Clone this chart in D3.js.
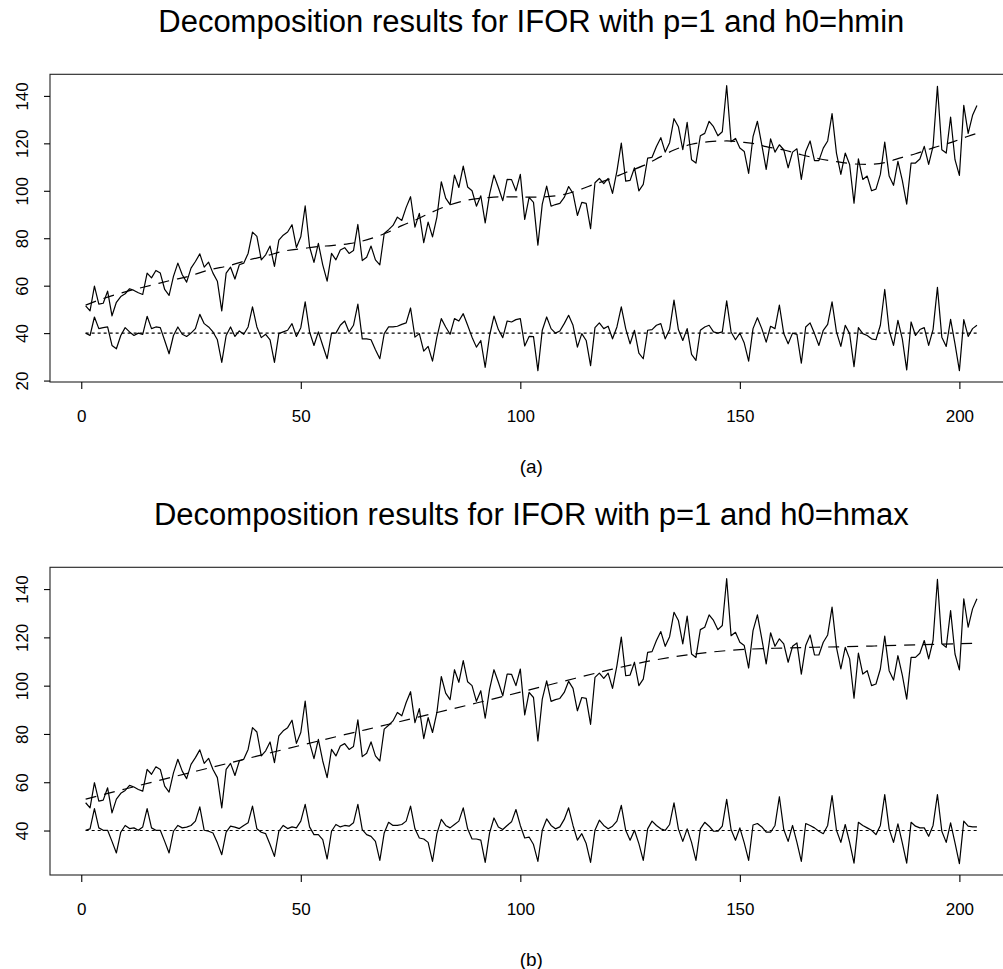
<!DOCTYPE html>
<html>
<head>
<meta charset="utf-8">
<script src="https://cdn.jsdelivr.net/npm/d3@7"></script>
<style>
  body { margin: 0; background: #fff; }
  svg { display: block; }
</style>
</head>
<body>
<div id="chart"></div>
<script>
// Observed monthly series (t = 1..204), shared by both decompositions
const observed = [
  51.5,49.4,59.8,52.2,52.6,57.7,47.3,53.0,55.4,56.6,
  58.7,58.0,57.0,56.3,65.3,63.3,66.4,65.3,58.4,55.9,
  63.9,69.5,64.6,61.5,67.4,70.2,73.4,67.8,69.9,65.3,
  61.9,49.4,65.3,67.8,62.8,68.8,69.5,73.6,82.6,80.8,
  70.9,73.0,76.7,68.1,79.2,81.3,82.6,85.7,76.1,80.6,
  93.6,76.4,69.8,77.8,68.8,61.9,73.6,70.9,75.0,76.0,
  73.6,74.8,85.8,70.6,72.0,76.7,70.9,68.8,82.0,83.6,
  85.4,88.9,87.5,93.0,97.5,84.7,90.5,78.1,86.8,80.6,
  88.9,103.8,96.9,94.2,106.6,101.4,110.4,101.6,100.0,93.5,
  97.9,86.5,98.6,106.6,101.4,95.8,104.8,104.7,100.0,106.9,
  87.9,97.2,95.1,77.1,94.4,102.0,93.5,94.2,94.7,97.2,
  101.8,98.9,89.6,95.1,94.7,84.0,103.4,105.2,103.0,105.2,
  98.9,108.3,120.1,104.1,104.4,109.7,100.0,102.7,113.8,114.1,
  118.7,122.4,116.3,120.3,130.4,127.0,117.3,128.8,113.1,111.7,
  123.2,124.2,129.3,127.0,123.2,124.9,144.3,120.7,122.1,118.0,
  116.6,107.3,122.8,129.3,119.4,109.0,121.9,116.3,119.4,117.3,
  109.7,116.3,117.7,104.8,116.6,121.0,112.7,112.7,118.0,121.0,
  132.5,115.9,106.9,115.9,111.1,94.8,113.5,104.8,106.2,100.0,
  100.7,106.9,120.5,106.2,102.3,112.4,104.4,94.4,111.7,111.7,
  113.4,118.7,111.1,118.7,144.0,117.3,115.9,131.1,113.1,106.5,
  136.0,124.2,131.8,136.0
];

// Trend estimate with h0 = hmin (time, value)
const trendTimeA = [1,6,11,16,21,24,29,34,38,42,46,51,54,57,61,64,67,70,73,76,80,84,88,92,95,99,
  103,109,113,116,120,124,128,132,135,139,143,147,151,154,156,160,164,168,171,175,179,183,187,190,194,198,202,204];
const trendA = [51.8,55.2,57.9,60.2,62.5,63.7,66.6,68.6,70.8,72.5,74.5,75.8,76.5,76.9,77.7,78.8,80.5,82.6,85.3,87.6,91.1,94.1,96.1,97.0,97.4,97.4,
  97.3,98.1,100.1,102.2,104.7,107.7,110.6,114.4,117.2,119.6,120.7,121.0,120.4,119.6,118.6,117.2,115.2,113.5,112.6,111.5,111.1,111.9,114.1,115.6,118.1,120.3,123.0,124.2];

// Trend estimate with h0 = hmax (time, value)
const trendTimeB = [1,10,20,30,40,50,60,70,80,90,100,110,120,130,140,150,160,170,180,190,204];
const trendB = [53.0,57.2,61.8,66.3,70.8,75.3,79.7,84.0,88.4,92.8,97.3,101.9,106.4,110.4,113.2,114.9,115.6,116.0,116.4,116.9,117.6];

// Seasonal components, drawn around the level 40
const seasonalA = [
  40.0,39.0,46.8,41.9,42.3,42.6,34.8,33.4,39.0,42.3,
  40.5,39.0,40.0,39.5,47.1,41.9,42.6,42.3,36.9,31.3,
  39.0,42.6,39.5,38.6,40.0,41.9,47.9,44.0,42.6,40.5,
  37.2,27.7,39.0,42.6,38.6,40.9,39.5,42.6,51.1,42.6,
  38.1,39.5,37.2,27.7,39.8,40.5,41.2,44.0,38.6,42.3,
  53.2,40.5,34.8,40.5,34.8,29.2,40.0,40.0,43.3,45.1,
  40.5,43.3,52.2,37.6,37.6,37.2,33.0,29.2,39.8,42.6,
  42.6,42.9,43.7,44.3,50.6,38.3,39.8,32.4,34.4,28.2,
  38.3,46.1,42.6,39.5,46.1,45.1,48.2,43.3,38.3,34.1,
  36.9,25.6,39.0,47.2,41.5,38.1,45.1,44.7,45.7,46.1,
  34.6,38.6,38.5,24.2,41.2,46.8,41.9,40.0,40.9,44.0,
  47.5,43.3,34.1,39.8,36.9,26.3,42.3,44.3,41.9,42.9,
  37.6,42.6,51.1,41.9,35.5,41.2,31.6,29.2,41.2,41.5,
  43.3,44.0,37.6,41.5,53.9,41.5,36.9,41.9,31.0,28.5,
  41.2,42.6,43.3,40.5,40.0,40.5,53.6,40.5,37.2,40.0,
  35.8,28.2,41.9,46.5,41.9,36.2,42.9,41.9,51.8,39.8,
  35.5,40.0,39.5,27.3,42.6,44.3,39.8,34.8,41.2,43.7,
  53.2,40.5,34.4,43.3,39.8,25.9,42.3,39.8,39.0,37.6,
  37.2,43.3,58.4,41.2,34.8,45.4,37.6,24.5,44.7,39.0,
  41.5,42.3,34.8,41.5,59.3,38.3,34.4,45.8,35.5,24.2,
  45.7,38.6,41.9,43.3
];
const seasonalB = [
  40.1,40.7,49.1,41.1,40.1,40.1,35.5,30.7,39.3,42.1,
  40.8,41.1,40.1,41.5,49.1,41.1,40.1,40.1,35.5,30.7,
  39.7,42.1,41.1,41.4,42.1,43.9,49.8,40.1,39.7,39.0,
  34.9,30.0,39.3,41.8,41.4,40.8,42.1,43.2,50.1,40.7,
  39.3,38.7,34.2,29.3,39.7,42.1,40.8,41.5,41.1,43.9,
  50.8,41.5,38.3,38.3,36.2,28.2,39.7,42.5,41.5,42.1,
  41.8,43.2,50.8,40.4,38.3,37.6,35.5,27.6,39.0,43.4,
  42.1,42.1,42.5,43.9,50.1,40.7,36.9,36.5,35.1,27.2,
  38.7,44.6,42.1,41.1,42.5,43.9,49.4,40.7,36.5,36.5,
  36.0,26.8,39.0,45.2,41.5,40.4,42.1,43.6,48.7,42.1,
  36.9,37.3,34.2,27.2,40.1,44.8,42.1,40.7,41.5,44.6,
  49.4,42.1,36.0,38.7,34.6,26.8,40.1,44.3,42.1,40.7,
  41.8,43.9,50.4,40.1,36.0,40.1,34.6,27.6,40.7,43.9,
  42.1,40.7,40.1,42.5,51.5,40.7,35.5,40.7,35.1,27.6,
  40.7,43.4,41.8,39.7,39.7,41.8,52.9,40.4,36.0,41.1,
  34.9,27.6,42.3,42.9,41.5,39.3,39.3,42.1,54.0,40.4,
  35.5,42.1,35.1,27.2,42.9,42.1,41.1,39.7,38.7,42.1,
  54.5,40.1,35.1,42.5,35.1,26.5,43.4,42.1,41.1,40.1,
  38.3,42.1,54.9,40.7,35.1,42.8,34.9,26.5,43.4,41.8,
  41.1,41.1,37.6,42.1,54.9,39.7,35.1,43.2,34.9,26.3,
  43.9,41.8,41.5,41.5
];
const seasonalLevel = 40;

const xTicks = [0, 50, 100, 150, 200];
const yTicksA = [20, 40, 60, 80, 100, 120, 140];
const yTicksB = [40, 60, 80, 100, 120, 140];
const titles = [
  "Decomposition results for IFOR with p=1 and h0=hmin",
  "Decomposition results for IFOR with p=1 and h0=hmax"
];
const captions = ["(a)", "(b)"];

// ---- drawing ----
const W = 1003, H = 969;
const FONT = "'Liberation Sans', Arial, Helvetica, sans-serif";
const boxLeft = 50, boxRight = 1012.6, boxH = 307.7;

const svg = d3.select("#chart").append("svg")
  .attr("width", W).attr("height", H)
  .attr("font-family", FONT);

const time = d3.range(1, observed.length + 1);
const tPad = 0.04 * (time[time.length - 1] - time[0]);
const x = d3.scaleLinear()
  .domain([time[0] - tPad, time[time.length - 1] + tPad])
  .range([boxLeft, boxRight]);

const panels = [
  { title: titles[0], caption: captions[0], trendT: trendTimeA, trend: trendA, seasonal: seasonalA, yTicks: yTicksA, top: 74.3 },
  { title: titles[1], caption: captions[1], trendT: trendTimeB, trend: trendB, seasonal: seasonalB, yTicks: yTicksB, top: 567.3 }
];

panels.forEach(p => {
  const g = svg.append("g");
  const vals = observed.concat(p.trend, p.seasonal);
  const [lo, hi] = d3.extent(vals);
  const r = hi - lo;
  const y = d3.scaleLinear()
    .domain([lo - 0.04 * r, hi + 0.04 * r])
    .range([p.top + boxH, p.top]);
  const cx = (boxLeft + boxRight) / 2;

  // title
  g.append("text")
    .attr("x", cx).attr("y", p.top - 42)
    .attr("text-anchor", "middle")
    .attr("font-size", 31)
    .attr("fill", "#000")
    .text(p.title);

  // plot frame
  g.append("rect")
    .attr("x", boxLeft).attr("y", p.top)
    .attr("width", boxRight - boxLeft).attr("height", boxH)
    .attr("fill", "none").attr("stroke", "#222").attr("stroke-width", 1.1);

  // series
  const lineObs = d3.line().x((d, i) => x(time[i])).y(d => y(d));
  g.append("path").datum(observed)
    .attr("d", lineObs)
    .attr("fill", "none").attr("stroke", "#000")
    .attr("stroke-width", 1.2).attr("stroke-linejoin", "round");

  const lineTrend = d3.line().x((d, i) => x(p.trendT[i])).y(d => y(d)).curve(d3.curveMonotoneX);
  g.append("path").datum(p.trend)
    .attr("d", lineTrend)
    .attr("fill", "none").attr("stroke", "#000")
    .attr("stroke-width", 1.2).attr("stroke-dasharray", "11,8");

  g.append("path").datum(time.map(() => seasonalLevel))
    .attr("d", lineObs)
    .attr("fill", "none").attr("stroke", "#000")
    .attr("stroke-width", 1.1).attr("stroke-dasharray", "3,3");

  g.append("path").datum(p.seasonal)
    .attr("d", lineObs)
    .attr("fill", "none").attr("stroke", "#000")
    .attr("stroke-width", 1.2).attr("stroke-linejoin", "round");

  // y axis
  const ga = g.append("g")
    .attr("transform", `translate(${boxLeft},0)`)
    .call(d3.axisLeft(y).tickValues(p.yTicks).tickSize(6).tickSizeOuter(0));
  ga.select(".domain").remove();
  ga.attr("font-size", 17).attr("font-family", FONT).attr("color", "#000");
  ga.selectAll(".tick line").attr("stroke-width", 1.1);
  ga.selectAll(".tick text")
    .attr("x", 0).attr("y", 0).attr("dy", "0.35em")
    .attr("text-anchor", "middle")
    .attr("transform", "translate(-28,0) rotate(-90)");

  // x axis
  const gx = g.append("g")
    .attr("transform", `translate(0,${p.top + boxH})`)
    .call(d3.axisBottom(x).tickValues(xTicks).tickSize(7).tickPadding(21).tickSizeOuter(0));
  gx.select(".domain").remove();
  gx.attr("font-size", 17).attr("font-family", FONT).attr("color", "#000");
  gx.selectAll(".tick line").attr("stroke-width", 1.1);

  // caption
  g.append("text")
    .attr("x", cx).attr("y", p.top + boxH + 91)
    .attr("text-anchor", "middle")
    .attr("font-size", 19)
    .attr("fill", "#000")
    .text(p.caption);
});
</script>
</body>
</html>
